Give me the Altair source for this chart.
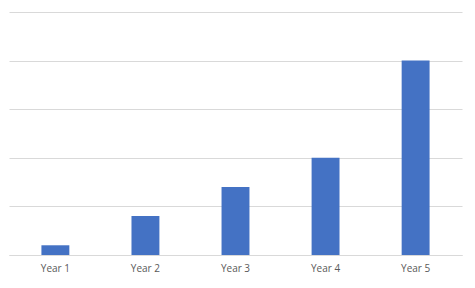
import altair as alt
import pandas as pd

years = ["Year 1", "Year 2", "Year 3", "Year 4", "Year 5"]
values = [1, 4, 7, 10, 20]

df = pd.DataFrame({"year": years, "value": values})

chart = alt.Chart(df).mark_bar(color="#4472C4").encode(
    x=alt.X("year:N", sort=years, title=None,
            scale=alt.Scale(paddingInner=0.69, paddingOuter=0.36),
            axis=alt.Axis(labelAngle=0, ticks=False, domain=True, domainColor="#d9d9d9",
                          labelFont="Open Sans", labelFontSize=10, labelColor="#595959",
                          labelPadding=8)),
    y=alt.Y("value:Q", title=None,
            scale=alt.Scale(domain=[0, 25], nice=False),
            axis=alt.Axis(values=[0, 5, 10, 15, 20, 25], labels=False, ticks=False, domain=False,
                          gridColor="#d9d9d9", gridWidth=1)),
).properties(
    width=453, height=243,
    padding={"left": 9, "top": 12, "right": 13, "bottom": 33},
    autosize=alt.AutoSizeParams(type="none"),
).configure_view(stroke=None)

chart.save("out.html", embed_options={"renderer": "svg", "actions": False})
